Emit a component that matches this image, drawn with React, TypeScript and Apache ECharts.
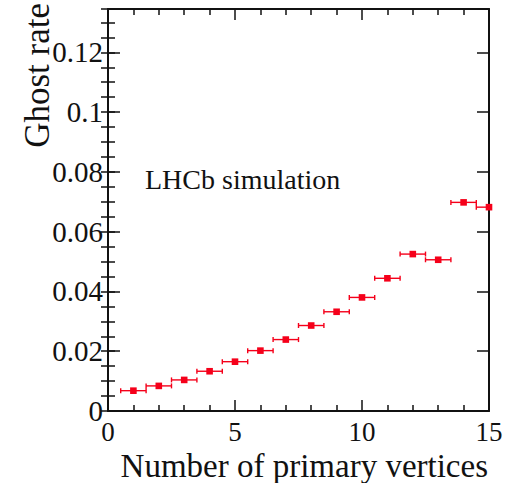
import React, { useEffect, useRef } from "react";
import * as echarts from "echarts";

const vertices = [1, 2, 3, 4, 5, 6, 7, 8, 9, 10, 11, 12, 13, 14, 15];
const ghostRate = [0.0068, 0.0084, 0.0104, 0.0133, 0.0165, 0.0202, 0.0239, 0.0286, 0.0332, 0.038, 0.0444, 0.0525, 0.0506, 0.0698, 0.0682];
const xErr = [0.5, 0.5, 0.5, 0.5, 0.5, 0.5, 0.5, 0.5, 0.5, 0.5, 0.5, 0.5, 0.5, 0.5, 0.5];
const yErr = [0.0002, 0.0002, 0.0002, 0.0002, 0.0003, 0.0003, 0.0003, 0.0003, 0.0004, 0.0004, 0.0004, 0.0005, 0.0005, 0.0008, 0.0009];

const xTitle = "Number of primary vertices";
const yTitle = "Ghost rate";
const note = "LHCb simulation";

const X_MIN = 0, X_MAX = 15, X_MAJOR = 5;
const Y_MIN = 0, Y_MAX = 0.1345, Y_MAJOR = 0.02, Y_MINOR = 0.005;

const FONT = "'Liberation Serif', 'Times New Roman', serif";
const RED = "#f5001a";
const INK = "#111";

export default function App() {
  const ref = useRef<HTMLDivElement>(null);
  useEffect(() => {
    if (!ref.current) return;
    const chart = echarts.init(ref.current, undefined, { renderer: "svg" });
    const data = vertices.map((v, i) => [v, ghostRate[i], xErr[i], yErr[i]]);

    const baseX = (pos: "bottom" | "top", labels: boolean) => ({
      type: "value",
      position: pos,
      min: X_MIN,
      max: X_MAX,
      interval: X_MAJOR,
      axisLine: { show: true, onZero: false, lineStyle: { color: INK, width: 2 } },
      axisTick: { show: true, inside: true, length: 11, lineStyle: { color: INK, width: 1.5 } },
      minorTick: { show: true, splitNumber: 5, length: 6, lineStyle: { color: INK, width: 1.5 } },
      axisLabel: { show: labels, fontFamily: FONT, fontSize: 27, color: INK, margin: 7 },
      splitLine: { show: false },
      minorSplitLine: { show: false },
    });

    const majorY = (pos: "left" | "right", labels: boolean) => ({
      type: "value",
      position: pos,
      min: Y_MIN,
      max: Y_MAX,
      interval: Y_MAJOR,
      axisLine: { show: true, onZero: false, lineStyle: { color: INK, width: 2 } },
      axisTick: { show: true, inside: true, length: 12, lineStyle: { color: INK, width: 1.5 } },
      axisLabel: {
        show: labels,
        fontFamily: FONT,
        fontSize: 29,
        color: INK,
        margin: 5,
        showMaxLabel: false,
        formatter: (v: number) => {
          const k = Math.round(v / Y_MAJOR);
          if (Math.abs(k * Y_MAJOR - v) > 1e-9) return "";
          return String(+(k * Y_MAJOR).toFixed(2));
        },
      },
      splitLine: { show: false },
    });

    const minorY = (pos: "left" | "right") => ({
      type: "value",
      position: pos,
      min: Y_MIN,
      max: Y_MAX,
      interval: Y_MINOR,
      axisLine: { show: false },
      axisTick: { show: true, inside: true, length: 7, lineStyle: { color: INK, width: 1.5 } },
      axisLabel: { show: false },
      splitLine: { show: false },
    });

    chart.setOption({
      animation: false,
      backgroundColor: "#fff",
      grid: { left: 108, right: 18, top: 9, bottom: 72, containLabel: false },
      xAxis: [baseX("bottom", true), baseX("top", false)],
      yAxis: [majorY("left", true), minorY("left"), majorY("right", false), minorY("right")],
      graphic: [
        {
          type: "text",
          x: 145,
          y: 179,
          style: { text: note, fontFamily: FONT, fontSize: 28, fill: INK, textAlign: "left", textVerticalAlign: "middle" },
        },
        {
          type: "text",
          x: 488,
          y: 466,
          style: { text: xTitle, fontFamily: FONT, fontSize: 33, fill: INK, textAlign: "right", textVerticalAlign: "middle" },
        },
        {
          type: "text",
          x: 37,
          y: 3,
          rotation: Math.PI / 2,
          style: { text: yTitle, fontFamily: FONT, fontSize: 35, fill: INK, textAlign: "right", textVerticalAlign: "middle" },
        },
      ],
      series: [
        {
          type: "custom",
          xAxisIndex: 0,
          yAxisIndex: 0,
          data,
          encode: { x: 0, y: 1 },
          renderItem: (params: any, api: any) => {
            const x = api.value(0), y = api.value(1), ex = api.value(2), ey = api.value(3);
            const cs = params.coordSys;
            const c = api.coord([x, y]);
            const l = api.coord([x - ex, y]);
            const r = api.coord([x + ex, y]);
            const t = api.coord([x, y + ey]);
            const b = api.coord([x, y - ey]);
            const x0 = cs.x, x1 = cs.x + cs.width;
            const lx = Math.max(l[0], x0), rx = Math.min(r[0], x1);
            const st = { stroke: RED, lineWidth: 1.4 };
            const children: any[] = [
              { type: "line", shape: { x1: lx, y1: c[1], x2: rx, y2: c[1] }, style: st },
              { type: "line", shape: { x1: c[0], y1: t[1], x2: c[0], y2: b[1] }, style: st },
            ];
            if (l[0] >= x0) children.push({ type: "line", shape: { x1: l[0], y1: c[1] - 2.5, x2: l[0], y2: c[1] + 2.5 }, style: st });
            if (r[0] <= x1) children.push({ type: "line", shape: { x1: r[0], y1: c[1] - 2.5, x2: r[0], y2: c[1] + 2.5 }, style: st });
            children.push({ type: "rect", shape: { x: c[0] - 3.3, y: c[1] - 3.3, width: 6.6, height: 6.6 }, style: { fill: RED } });
            return { type: "group", children };
          },
          z: 10,
        },
      ],
    });
    return () => chart.dispose();
  }, []);
  return <div ref={ref} style={{ position: "absolute", left: 0, top: 0, width: 507, height: 483 }} />;
}
